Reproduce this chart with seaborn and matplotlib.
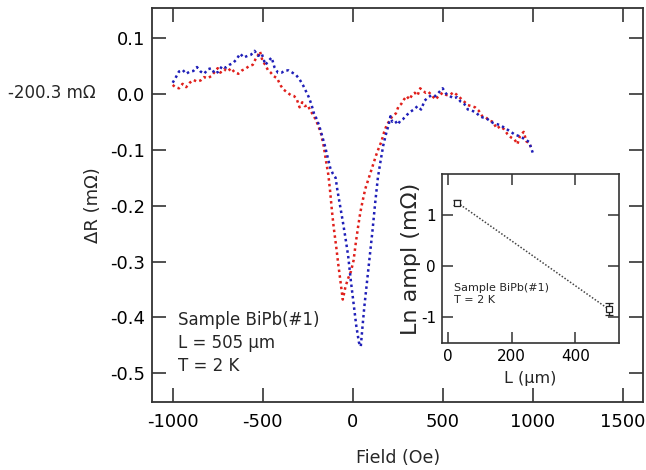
import numpy as np
import pandas as pd
import matplotlib
matplotlib.use("Agg")
import matplotlib.pyplot as plt
import seaborn as sns

# ---- data ----
blue_field = [-1000, -985, -965, -945, -925, -905, -885, -865, -845, -825, -805, -785, -765, -745,
              -725, -705, -685, -665, -645, -625, -605, -585, -565, -545, -525, -505, -485, -465,
              -450, -435, -415, -395, -375, -355, -335, -315, -295, -275, -260, -245, -230, -215,
              -200, -185, -170, -155, -140, -125, -110, -95, -85, -70, -55, -40, -25, -10, 5, 20,
              35, 45, 55, 65, 80, 95, 110, 125, 140, 155, 170, 185, 200, 210, 220, 235, 250, 265,
              280, 300, 320, 340, 360, 380, 400, 420, 440, 460, 480, 500, 520, 540, 560, 580, 600,
              620, 640, 660, 680, 700, 720, 740, 760, 780, 800, 820, 840, 860, 880, 900, 920, 940,
              960, 980, 1000]
blue_dR = [0.020, 0.028, 0.040, 0.043, 0.036, 0.040, 0.041, 0.048, 0.040, 0.036, 0.044, 0.046, 0.036,
           0.040, 0.050, 0.047, 0.052, 0.055, 0.062, 0.072, 0.065, 0.068, 0.070, 0.077, 0.068, 0.072,
           0.052, 0.060, 0.065, 0.048, 0.038, 0.038, 0.042, 0.042, 0.038, 0.034, 0.026, 0.015, 0.005,
           -0.005, -0.018, -0.035, -0.045, -0.058, -0.075, -0.092, -0.112, -0.132, -0.143, -0.150,
           -0.172, -0.200, -0.228, -0.258, -0.290, -0.335, -0.375, -0.415, -0.445, -0.452, -0.415,
           -0.380, -0.335, -0.290, -0.245, -0.195, -0.150, -0.120, -0.092, -0.072, -0.055, -0.040,
           -0.050, -0.048, -0.055, -0.048, -0.045, -0.038, -0.032, -0.028, -0.022, -0.028, -0.012,
           -0.006, -0.002, -0.004, 0.003, 0.010, 0.000, -0.004, -0.008, -0.006, -0.014, -0.018,
           -0.028, -0.030, -0.032, -0.038, -0.042, -0.043, -0.048, -0.052, -0.054, -0.056, -0.060,
           -0.064, -0.068, -0.073, -0.075, -0.078, -0.082, -0.086, -0.105]

red_field = [-1000, -985, -965, -945, -925, -905, -885, -865, -845, -825, -805, -785, -765, -750,
             -735, -715, -695, -675, -655, -635, -615, -595, -575, -555, -540, -525, -515, -500,
             -485, -470, -455, -440, -420, -400, -385, -365, -345, -325, -310, -295, -280, -265,
             -250, -235, -215, -200, -190, -175, -160, -148, -135, -125, -115, -105, -92, -80, -68,
             -55, -40, -25, -10, 5, 18, 30, 42, 55, 70, 85, 100, 115, 130, 145, 160, 175, 190, 205,
             220, 240, 255, 270, 285, 300, 315, 330, 345, 360, 375, 390, 405, 420, 440, 460, 480,
             500, 520, 540, 560, 580, 600, 620, 640, 660, 680, 700, 720, 740, 760, 780, 800, 820,
             840, 860, 880, 900, 915, 930, 950, 965, 980, 990]
red_dR = [0.016, 0.012, 0.010, 0.018, 0.012, 0.020, 0.025, 0.022, 0.024, 0.030, 0.028, 0.032, 0.040,
          0.046, 0.038, 0.044, 0.040, 0.046, 0.038, 0.036, 0.042, 0.045, 0.050, 0.052, 0.062, 0.070,
          0.076, 0.058, 0.052, 0.042, 0.038, 0.032, 0.028, 0.015, 0.008, 0.003, -0.002, -0.004,
          -0.010, -0.024, -0.015, -0.022, -0.020, -0.030, -0.040, -0.050, -0.058, -0.072, -0.095,
          -0.120, -0.145, -0.175, -0.210, -0.240, -0.272, -0.305, -0.335, -0.368, -0.345, -0.330,
          -0.318, -0.298, -0.265, -0.238, -0.213, -0.192, -0.170, -0.155, -0.140, -0.125, -0.110,
          -0.097, -0.085, -0.068, -0.055, -0.048, -0.040, -0.035, -0.022, -0.018, -0.010, -0.004,
          -0.010, -0.002, 0.002, -0.003, 0.010, 0.006, 0.002, 0.004, -0.003, -0.010, -0.003, 0.002,
          -0.002, -0.002, 0.003, -0.002, -0.008, -0.014, -0.020, -0.022, -0.024, -0.030, -0.040,
          -0.042, -0.048, -0.050, -0.062, -0.058, -0.063, -0.072, -0.078, -0.082, -0.090, -0.075,
          -0.068, -0.085, -0.088, -0.095]

inset_L = [30, 505]
inset_ln_ampl = [1.24, -0.85]
inset_err = [0.05, 0.12]

x_ticks = [-1000, -500, 0, 500, 1000, 1500]
y_ticks = [-0.5, -0.4, -0.3, -0.2, -0.1, 0.0, 0.1]
inset_x_ticks = [0, 200, 400]
inset_y_ticks = [-1, 0, 1]

# ---- style ----
sns.set_style("ticks")
plt.rcParams['font.family'] = ['DejaVu Sans']
plt.rcParams['axes.unicode_minus'] = False

RED = '#e0201c'
BLUE = '#1f1fb8'
EDGE = '#333333'

fig = plt.figure(figsize=(6.46, 4.70), dpi=100)
ax = fig.add_axes([0.2358, 0.1453, 0.7596, 0.8377])

df_b = pd.DataFrame({'Field': blue_field, 'dR': blue_dR})
df_r = pd.DataFrame({'Field': red_field, 'dR': red_dR})
sns.lineplot(data=df_r, x='Field', y='dR', ax=ax, color=RED, linestyle=(0, (1, 1.3)),
             linewidth=1.8, estimator=None, sort=False)
sns.lineplot(data=df_b, x='Field', y='dR', ax=ax, color=BLUE, linestyle=(0, (1, 1.3)),
             linewidth=1.8, estimator=None, sort=False)

ax.set_xlim(-1113, 1613)
ax.set_ylim(-0.5508, 0.1537)
ax.set_xticks(x_ticks)
ax.set_xticklabels([str(t) for t in x_ticks])
ax.set_yticks(y_ticks)
ax.set_yticklabels([f"{t:.1f}" for t in y_ticks])
ax.tick_params(direction='in', length=10, width=1.2, top=True, right=True,
               labelsize=13, colors=EDGE, labelcolor='black')
ax.tick_params(axis='x', pad=8)
ax.tick_params(axis='y', pad=5)
for s in ax.spines.values():
    s.set_linewidth(1.3)
    s.set_color(EDGE)
ax.set_xlabel('Field (Oe)', fontsize=12.5, labelpad=13)
ax.set_ylabel('ΔR (mΩ)', fontsize=13, labelpad=6)

ax.text(0.052, 0.230, 'Sample BiPb(#1)\nL = 505 μm\nT = 2 K', transform=ax.transAxes,
        fontsize=12, va='top', ha='left', linespacing=1.35)

fig.text(8 / 646, 1 - 93 / 470, '-200.3 mΩ', fontsize=12, va='center', ha='left')

# ---- inset ----
axi = fig.add_axes([0.6837, 0.2702, 0.2750, 0.3596])
df_i = pd.DataFrame({'L': inset_L, 'ln': inset_ln_ampl})
sns.lineplot(data=df_i, x='L', y='ln', ax=axi, color='#444444', linestyle=(0, (1, 1.2)),
             linewidth=1.1, estimator=None)
axi.errorbar(inset_L, inset_ln_ampl, yerr=inset_err, fmt='s', mfc='white', mec='#222222',
             ms=5, ecolor='#222222', elinewidth=1, capsize=3, mew=0.9, zorder=3)
axi.set_xlim(-19, 538)
axi.set_ylim(-1.51, 1.8)
axi.set_xticks(inset_x_ticks)
axi.set_yticks(inset_y_ticks)
axi.tick_params(direction='in', length=8, width=1.1, top=True, right=True,
                labelsize=11, colors=EDGE, labelcolor='black', pad=4)
for s in axi.spines.values():
    s.set_linewidth(1.2)
    s.set_color(EDGE)
axi.set_xlabel('L (μm)', fontsize=11.5, labelpad=5)
axi.set_ylabel('Ln ampl (mΩ)', fontsize=16, labelpad=0)
axi.text(0.07, 0.353, 'Sample BiPb(#1)\nT = 2 K', transform=axi.transAxes,
         fontsize=8, va='top', ha='left', linespacing=1.2)

fig.savefig('out.png', dpi=100)
